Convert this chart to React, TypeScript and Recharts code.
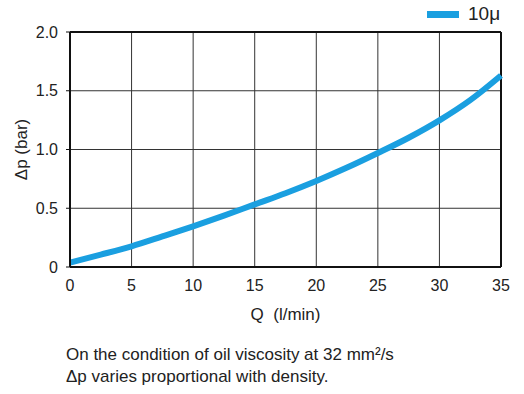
import React from "react";
import { LineChart, Line, XAxis, YAxis, CartesianGrid, ReferenceLine, Label } from "recharts";

const flowQ = [0, 2.5, 5, 7.5, 10, 12.5, 15, 17.5, 20, 22.5, 25, 27.5, 30, 32.5, 35];
const pressureDrop = [0.037, 0.105, 0.176, 0.26, 0.346, 0.437, 0.533, 0.628, 0.732, 0.846, 0.97, 1.1, 1.248, 1.42, 1.63];
const xTicks = [0, 5, 10, 15, 20, 25, 30, 35];
const yTicks = [0, 0.5, 1, 1.5, 2];
const seriesName = "10μ";
const xLabel = "Q  (l/min)";
const yLabel = "Δp (bar)";
const noteLines = ["On the condition of oil viscosity at 32 mm²/s", "Δp varies proportional with density."];

const data = flowQ.map((q, i) => ({ q, dp: pressureDrop[i] }));

const FONT = "'Liberation Sans', Arial, Helvetica, sans-serif";
const BLUE = "#1a9fe0";
const TEXT = "#222";

export default function App() {
  return (
    <div style={{ position: "absolute", left: 0, top: 0, width: 524, height: 394, background: "#fff", fontFamily: FONT }}>
      <LineChart width={524} height={330} data={data} margin={{ top: 32, right: 23, left: 0, bottom: 13 }}>
        <CartesianGrid stroke="#333" strokeWidth={1} />
        <XAxis
          dataKey="q"
          type="number"
          domain={[0, 35]}
          ticks={xTicks}
          height={50}
          tickLine={false}
          tickSize={6}
          tickMargin={7}
          axisLine={{ stroke: "#111", strokeWidth: 2 }}
          tick={{ fill: TEXT, fontSize: 16, fontFamily: FONT }}
        >
          <Label value={xLabel.replace(/ /g, "\u00a0")} position="insideBottom" offset={-3} style={{ fill: TEXT, fontSize: 17, fontFamily: FONT }} />
        </XAxis>
        <YAxis
          type="number"
          domain={[0, 2]}
          ticks={yTicks}
          width={70}
          tickSize={4}
          tickMargin={8}
          tickLine={{ stroke: "#111" }}
          axisLine={{ stroke: "#111", strokeWidth: 2 }}
          tickFormatter={(v: number) => (v === 0 ? "0" : v.toFixed(1))}
          tick={{ fill: TEXT, fontSize: 16, fontFamily: FONT }}
        >
          <Label value={yLabel} angle={-90} position="insideLeft" offset={21} style={{ fill: TEXT, fontSize: 17, fontFamily: FONT, textAnchor: "middle" }} />
        </YAxis>
        <ReferenceLine y={2} stroke="#111" strokeWidth={2} />
        <ReferenceLine x={35} stroke="#111" strokeWidth={2} />
        <Line
          type="monotone"
          dataKey="dp"
          name={seriesName}
          stroke={BLUE}
          strokeWidth={6}
          dot={false}
          isAnimationActive={false}
        />
      </LineChart>
      <div style={{ position: "absolute", left: 427, top: 4, display: "flex", alignItems: "center", height: 20 }}>
        <div style={{ width: 32, height: 7, background: BLUE }} />
        <span style={{ marginLeft: 9, fontSize: 19, color: TEXT, fontFamily: FONT }}>{seriesName}</span>
      </div>
      <div style={{ position: "absolute", left: 66, top: 344, fontSize: 17, lineHeight: "22px", color: TEXT, fontFamily: FONT }}>
        {noteLines.map((l, i) => (
          <div key={i}>{l}</div>
        ))}
      </div>
    </div>
  );
}
